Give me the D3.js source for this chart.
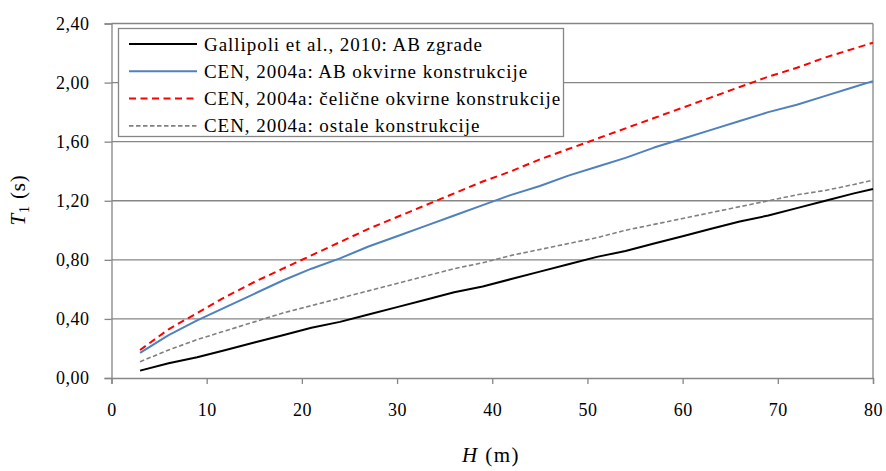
<!DOCTYPE html>
<html><head><meta charset="utf-8">
<script src="https://cdn.jsdelivr.net/npm/d3@7"></script>
<style>body{margin:0;background:#fff;} svg{display:block;} svg text{fill:#000;}</style>
</head><body><div id="chart"></div>
<script>
const heights = [3,6,9,12,15,18,21,24,27,30,33,36,39,42,45,48,51,54,57,60,63,66,69,72,75,78,80];
const gallipoliAB = [0.05,0.10,0.14,0.19,0.24,0.29,0.34,0.38,0.43,0.48,0.53,0.58,0.62,0.67,0.72,0.77,0.82,0.86,0.91,0.96,1.01,1.06,1.10,1.15,1.20,1.25,1.28];
const cenABFrame = [0.17,0.29,0.39,0.48,0.57,0.66,0.74,0.81,0.89,0.96,1.03,1.10,1.17,1.24,1.30,1.37,1.43,1.49,1.56,1.62,1.68,1.74,1.80,1.85,1.91,1.97,2.01];
const cenSteelFrame = [0.19,0.33,0.44,0.55,0.65,0.74,0.83,0.92,1.01,1.09,1.17,1.25,1.33,1.40,1.48,1.55,1.62,1.69,1.76,1.83,1.90,1.97,2.04,2.10,2.17,2.23,2.27];
const cenOther = [0.11,0.19,0.26,0.32,0.38,0.44,0.49,0.54,0.59,0.64,0.69,0.74,0.78,0.83,0.87,0.91,0.95,1.00,1.04,1.08,1.12,1.16,1.20,1.24,1.27,1.31,1.34];
const seriesNames = ["Gallipoli et al., 2010: AB zgrade","CEN, 2004a: AB okvirne konstrukcije","CEN, 2004a: čelične okvirne konstrukcije","CEN, 2004a: ostale konstrukcije"];
const xTicks = [0,10,20,30,40,50,60,70,80];
const yTicks = [0,0.4,0.8,1.2,1.6,2.0,2.4];

const W = 886, H = 471;
const m = {left:111.5, right:13, top:23.5, bottom:93};
const FONT = '"Liberation Serif", Tinos, "Times New Roman", "DejaVu Serif", serif';
const svg = d3.select("#chart").append("svg").attr("width",W).attr("height",H).attr("font-family",FONT);
const x = d3.scaleLinear().domain([0,80]).range([m.left, W-m.right]);
const y = d3.scaleLinear().domain([0,2.4]).range([H-m.bottom, m.top]);
const fmt = v => d3.format(".2f")(v).replace(".",",");
const gray = "#868686";

// gridlines
svg.append("g").selectAll("line").data(yTicks.slice(1)).join("line")
  .attr("x1",x(0)).attr("x2",x(80)).attr("y1",d=>y(d)).attr("y2",d=>y(d))
  .attr("stroke",gray).attr("stroke-width",1.3);
// right border
svg.append("line").attr("x1",x(80)).attr("x2",x(80)).attr("y1",y(0)).attr("y2",y(2.4)).attr("stroke",gray).attr("stroke-width",1.3);

// axes
const yAxis = svg.append("g").attr("transform",`translate(${x(0)},0)`)
  .call(d3.axisLeft(y).tickValues(yTicks).tickFormat(fmt).tickSize(7).tickPadding(15));
const xAxis = svg.append("g").attr("transform",`translate(0,${y(0)})`)
  .call(d3.axisBottom(x).tickValues(xTicks).tickFormat(d3.format("d")).tickSize(6).tickPadding(19));
[yAxis,xAxis].forEach(g=>{
  g.attr("font-family",FONT).attr("font-size",18);
  g.select(".domain").attr("stroke",gray).attr("stroke-width",1.3);
  g.selectAll(".tick line").attr("stroke",gray).attr("stroke-width",1.3);
  g.selectAll("text").attr("font-family",FONT).attr("font-size",18).attr("fill","#000").attr("letter-spacing",0.5);
});

const styles = [
  {data:gallipoliAB, color:"#000000", width:2, dash:null},
  {data:cenABFrame, color:"#4F81BD", width:2, dash:null},
  {data:cenSteelFrame, color:"#FF0000", width:2, dash:"7,4.5"},
  {data:cenOther, color:"#808080", width:1.6, dash:"4.5,2.5"}
];
const line = d3.line().x((d,i)=>x(heights[i])).y(d=>y(d));
styles.forEach(s=>{
  svg.append("path").datum(s.data).attr("d",line).attr("fill","none")
    .attr("stroke",s.color).attr("stroke-width",s.width)
    .attr("stroke-dasharray",s.dash).attr("stroke-linejoin","round");
});

// legend
const lg = svg.append("g");
lg.append("rect").attr("x",118.5).attr("y",28.5).attr("width",445).attr("height",108)
  .attr("fill","#fff").attr("stroke",gray).attr("stroke-width",1.3);
seriesNames.forEach((n,i)=>{
  const yy = 44 + i*27.3;
  const s = styles[i];
  lg.append("line").attr("x1",129).attr("x2",197).attr("y1",yy).attr("y2",yy)
    .attr("stroke",s.color).attr("stroke-width",s.width).attr("stroke-dasharray",s.dash);
  lg.append("text").attr("x",204).attr("y",yy+6.5).attr("font-size",19).attr("letter-spacing",0.95).text(n);
});

// axis titles
const yt = svg.append("text").attr("transform","translate(25,200) rotate(-90)")
  .attr("text-anchor","middle").attr("font-size",21).attr("letter-spacing",0.8);
yt.append("tspan").attr("font-style","italic").text("T");
yt.append("tspan").attr("font-size",14).attr("dy",4).text("1");
yt.append("tspan").attr("dy",-4).text(" (s)");
const xt = svg.append("text").attr("x",491).attr("y",462).attr("text-anchor","middle").attr("font-size",21).attr("letter-spacing",1.5);
xt.append("tspan").attr("font-style","italic").text("H");
xt.append("tspan").text(" (m)");
</script></body></html>
